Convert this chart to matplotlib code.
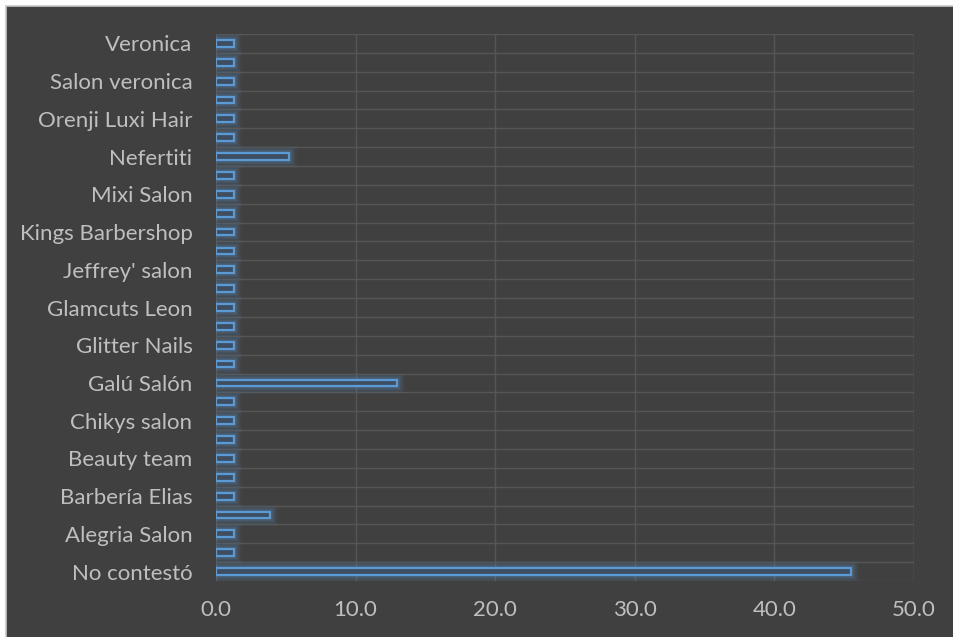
import matplotlib
matplotlib.use("Agg")
import matplotlib.pyplot as plt
from matplotlib.patches import Rectangle

# rows from bottom (index 0) to top; Excel only shows every other label
categories = [
    "No contestó", "", "Alegria Salon", "", "Barbería Elias", "",
    "Beauty team", "", "Chikys salon", "", "Galú Salón", "",
    "Glitter Nails", "", "Glamcuts Leon", "", "Jeffrey' salon", "",
    "Kings Barbershop", "", "Mixi Salon", "", "Nefertiti", "",
    "Orenji Luxi Hair", "", "Salon veronica", "", "Veronica",
]
values = [
    45.5, 1.3, 1.3, 3.9, 1.3, 1.3,
    1.3, 1.3, 1.3, 1.3, 13.0, 1.3,
    1.3, 1.3, 1.3, 1.3, 1.3, 1.3,
    1.3, 1.3, 1.3, 1.3, 5.2, 1.3,
    1.3, 1.3, 1.3, 1.3, 1.3,
]
x_ticks = [0, 10, 20, 30, 40, 50]

BG = "#404040"
GRID = "#555555"
TEXT = "#BFBFBF"
EDGE = "#5B9BD5"
FILL = "#3E4E60"

plt.rcParams["font.family"] = ["Lato", "DejaVu Sans"]

fig = plt.figure(figsize=(9.54, 6.37), dpi=100)
fig.patch.set_facecolor("white")
fig.add_artist(Rectangle((6 / 954, -0.01), 1.0, 1 - 6 / 637 + 0.01,
                         transform=fig.transFigure, facecolor=BG,
                         edgecolor="#C8C8C8", linewidth=1.2, zorder=0))

ax = fig.add_axes([216 / 954, 1 - 581 / 637, (914 - 216) / 954, (581 - 34) / 637])
ax.set_facecolor(BG)

y = list(range(len(categories)))

# soft glow around the bars
for lw, a in [(11, 0.05), (8, 0.08), (6, 0.10), (4, 0.15)]:
    ax.barh(y, values, height=0.36, facecolor="none", edgecolor=EDGE,
            linewidth=lw, alpha=a, zorder=2)
ax.barh(y, values, height=0.36, facecolor=FILL, edgecolor=EDGE,
        linewidth=1.6, zorder=3)

ax.set_xlim(0, 50)
ax.set_ylim(-0.5, len(categories) - 0.5)
ax.set_xticks(x_ticks)
ax.set_xticklabels([f"{t:.1f}" for t in x_ticks])
ax.set_yticks(y)
ax.set_yticklabels(categories)

ax.set_yticks([i + 0.5 for i in range(-1, len(categories))], minor=True)
ax.grid(True, axis="x", which="major", color=GRID, linewidth=1.0, zorder=1)
ax.grid(True, axis="y", which="minor", color=GRID, linewidth=1.0, zorder=1)
ax.grid(False, axis="y", which="major")

ax.tick_params(axis="both", which="both", length=0, colors=TEXT, labelsize=16)
ax.tick_params(axis="y", pad=17)
ax.tick_params(axis="x", pad=14)

for s in ax.spines.values():
    s.set_visible(False)
ax.axvline(50, color=GRID, linewidth=1.0, zorder=1)

fig.savefig("out.png", dpi=100, facecolor=fig.get_facecolor())
